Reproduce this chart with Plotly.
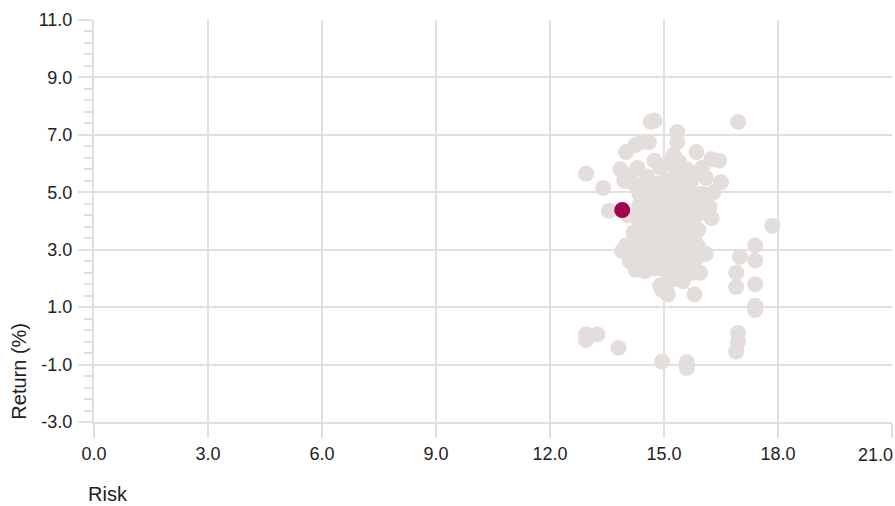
import plotly.graph_objects as go

# Peer funds (grey)
risk = [
    12.95, 13.4, 13.55, 12.95, 12.95, 13.25, 13.8, 14.95, 15.6, 15.6, 16.95, 17.85, 17.0, 17.4, 17.4,
    16.9, 16.9, 17.4, 17.4, 17.4, 16.95, 16.95, 16.9, 15.8, 15.1, 15.95, 14.65, 14.75, 14.25, 14.4,
    14.6, 14.0, 15.35, 15.35, 15.85, 16.25, 16.45, 16.5, 16.25, 16.1, 16.2, 16.3, 16.1,
    13.85, 14.1, 14.3, 14.55, 14.75, 14.9, 15.1, 15.25, 15.4, 15.6, 15.85, 16.0, 15.7, 15.5, 15.3,
    15.05, 14.8, 14.5, 14.2, 13.95, 14.35, 14.6, 14.9, 15.2, 15.45, 15.75, 16.0, 15.9, 15.6, 15.35,
    15.1, 14.85, 14.6, 14.35, 14.05, 14.3, 14.55, 14.8, 15.05, 15.3, 15.55, 15.8, 16.0, 15.7, 15.45,
    15.2, 14.95, 14.7, 14.45, 14.2, 14.4, 14.65, 14.9, 15.15, 15.4, 15.65, 15.9, 15.8, 15.55, 15.3,
    15.05, 14.8, 14.55, 14.25, 14.0, 13.9, 14.15, 14.4, 14.7, 14.95, 15.2, 15.45, 15.7, 15.9, 15.85,
    15.6, 15.35, 15.1, 14.85, 14.6, 14.3, 14.1, 14.25, 14.5, 14.75, 15.0, 15.25, 15.5, 15.75, 15.5,
    15.2, 14.9, 14.95,
]
ret = [
    5.65, 5.15, 4.35, 0.05, -0.15, 0.05, -0.42, -0.9, -0.92, -1.12, 7.45, 3.83, 2.75, 3.15, 2.62,
    2.2, 1.7, 1.8, 1.05, 0.9, 0.1, -0.2, -0.55, 1.45, 1.45, 2.2, 7.45, 7.5, 6.65, 6.75,
    6.75, 6.4, 7.1, 6.75, 6.4, 6.15, 6.1, 5.35, 4.1, 2.85, 4.5, 5.0, 5.5,
    5.8, 5.6, 5.85, 5.55, 6.1, 5.85, 6.0, 6.3, 6.05, 5.8, 5.65, 5.85, 5.35, 5.45, 5.6,
    5.4, 5.3, 5.2, 5.3, 5.4, 4.95, 4.85, 5.0, 5.1, 4.95, 4.9, 4.95, 4.6, 4.6, 4.7,
    4.75, 4.65, 4.5, 4.55, 4.2, 4.1, 4.25, 4.3, 4.4, 4.3, 4.25, 4.15, 4.3, 3.9, 3.95,
    3.85, 3.95, 3.8, 3.75, 3.6, 3.45, 3.5, 3.6, 3.55, 3.6, 3.55, 3.7, 3.35, 3.25, 3.3,
    3.25, 3.2, 3.15, 3.1, 3.15, 2.95, 2.85, 2.8, 2.9, 2.95, 3.0, 2.95, 3.0, 3.1, 2.7,
    2.65, 2.7, 2.6, 2.6, 2.55, 2.55, 2.6, 2.3, 2.25, 2.35, 2.3, 2.25, 2.3, 2.2, 1.9,
    1.95, 1.75, 1.6,
]

# Highlighted fund
hl_risk = [13.9]
hl_ret = [4.38]

x_ticks = [0, 3, 6, 9, 12, 15, 18, 21]
y_ticks = [-3, -1, 1, 3, 5, 7, 9, 11]

grid = "#e0e0e0"
font = "Liberation Sans, Arial, sans-serif"
txt = "#222222"

fig = go.Figure()
fig.add_trace(go.Scatter(x=risk, y=ret, mode="markers",
                         marker=dict(size=16, color="#e3dedc", line=dict(width=0)),
                         hoverinfo="skip", showlegend=False))
fig.add_trace(go.Scatter(x=hl_risk, y=hl_ret, mode="markers",
                         marker=dict(size=16, color="#a4004f", line=dict(width=0)),
                         hoverinfo="skip", showlegend=False))

# last x tick label is drawn right-aligned so it stays inside the figure
x_text = [f"{v:.1f}" for v in x_ticks[:-1]] + [""]

fig.update_layout(
    width=895, height=506,
    margin=dict(l=94, r=3, t=20, b=84),
    plot_bgcolor="white", paper_bgcolor="white",
    font=dict(family=font, size=18, color=txt),
    showlegend=False,
    xaxis=dict(range=[0, 21], tickvals=x_ticks, ticktext=x_text,
               showgrid=True, gridcolor=grid, gridwidth=2, zeroline=False,
               showline=True, linecolor=grid, linewidth=2,
               ticks="outside", ticklen=14, tickcolor=grid, tickwidth=2,
               tickfont=dict(size=18)),
    yaxis=dict(range=[-3, 11], tickvals=y_ticks, ticktext=[f"{v:.1f}" for v in y_ticks],
               showgrid=True, gridcolor=grid, gridwidth=2, zeroline=False,
               showline=True, linecolor=grid, linewidth=2,
               ticks="outside", ticklen=14, tickcolor=grid, tickwidth=2,
               tickfont=dict(size=18), ticklabelstandoff=2,
               minor=dict(dtick=0.4, tick0=-3, ticks="outside", ticklen=8,
                          tickcolor=grid, tickwidth=2, showgrid=False)),
    annotations=[
        dict(text="Return (%)", xref="paper", yref="y", x=-0.095, y=-3,
             xanchor="center", yanchor="bottom", textangle=-90, showarrow=False,
             font=dict(size=20, family=font, color=txt)),
        dict(text="Risk", xref="paper", yref="paper", x=-0.01, y=-0.18,
             xanchor="left", yanchor="middle", showarrow=False,
             font=dict(size=20, family=font, color=txt)),
        dict(text=f"{x_ticks[-1]:.1f}", xref="x", yref="paper", x=x_ticks[-1], y=-0.082,
             xanchor="right", yanchor="middle", showarrow=False, xshift=3,
             font=dict(size=18, family=font, color=txt)),
    ],
)

fig.write_html("out.html", config={"displayModeBar": False},
               post_script="document.body.style.margin='0';document.body.style.overflow='hidden';")
